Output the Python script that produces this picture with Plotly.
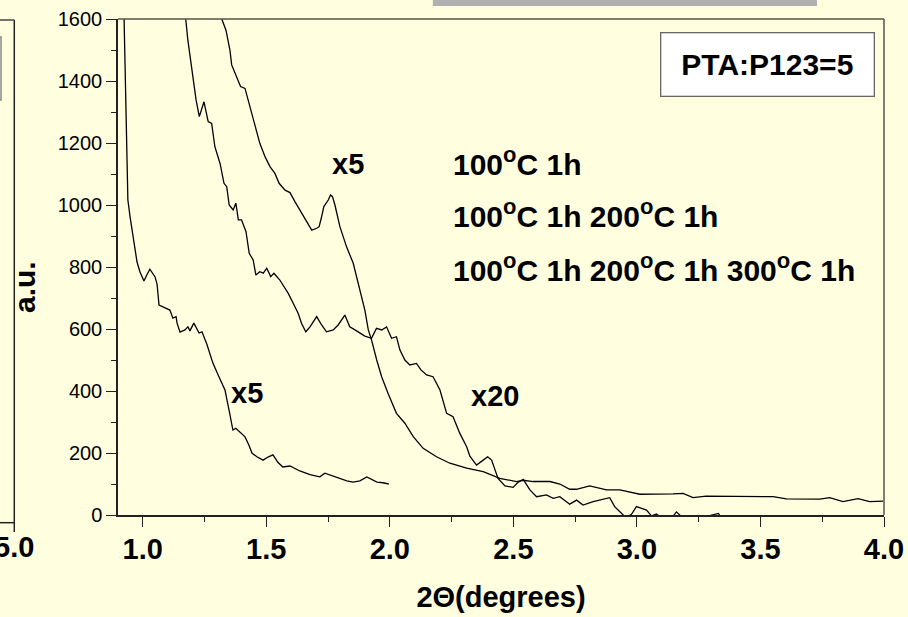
import plotly.graph_objects as go

# ---- data ----
x_a = [0.922, 0.925, 0.934, 0.940, 0.949, 0.969, 0.977, 0.989, 1.005, 1.017, 1.029, 1.050, 1.058, 1.066,
       1.090, 1.110, 1.122, 1.135, 1.139, 1.151, 1.171, 1.183, 1.191, 1.207, 1.228, 1.240, 1.260,
       1.284, 1.309, 1.333, 1.349, 1.365, 1.377, 1.394, 1.414, 1.430, 1.442, 1.462, 1.487, 1.507,
       1.527, 1.547, 1.567, 1.596, 1.636, 1.677, 1.717, 1.737, 1.770, 1.798, 1.826, 1.851, 1.879,
       1.907, 1.927, 1.948, 1.972, 1.996]
y_a = [1700, 1600, 1250, 1016, 961, 855, 816, 784, 755, 775, 793, 768, 745, 677,
       668, 661, 635, 640, 619, 590, 597, 607, 594, 619, 587, 591, 550,
       490, 445, 403, 340, 274, 280, 268, 252, 225, 200, 188, 177, 187,
       194, 170, 155, 158, 142, 130, 123, 135, 125, 116, 110, 106, 110,
       123, 115, 106, 104, 100]

x_b = [1.170, 1.174, 1.183, 1.198, 1.216, 1.229, 1.248, 1.265, 1.279, 1.292, 1.313, 1.329, 1.340,
       1.350, 1.366, 1.377, 1.387, 1.400, 1.418, 1.431, 1.447, 1.458, 1.474, 1.488, 1.502, 1.518,
       1.531, 1.555, 1.589, 1.609, 1.629, 1.643, 1.660, 1.677, 1.704, 1.724, 1.744, 1.771, 1.791,
       1.818, 1.838, 1.859, 1.879, 1.899, 1.926, 1.946, 1.967, 1.987, 2.007, 2.027, 2.041, 2.061,
       2.081, 2.108, 2.126, 2.149, 2.175, 2.203, 2.230, 2.256, 2.283, 2.311, 2.324, 2.351, 2.378,
       2.396, 2.412, 2.438, 2.466, 2.499, 2.518, 2.540, 2.567, 2.594, 2.634, 2.661, 2.688, 2.728,
       2.756, 2.782, 2.823, 2.850, 2.890, 2.910, 2.931, 2.951, 2.963, 2.978, 2.998, 3.020, 3.039,
       3.059, 3.079, 3.101, 3.141, 3.160, 3.180, 3.254, 3.294, 3.319, 3.330, 3.338]
y_b = [1700, 1600, 1530, 1446, 1339, 1285, 1333, 1269, 1263, 1188, 1134, 1070, 1059,
       1000, 984, 1006, 952, 952, 914, 844, 823, 774, 785, 780, 796, 769,
       780, 758, 715, 683, 651, 618, 591, 607, 640, 613, 591, 597, 613,
       645, 607, 597, 586, 577, 570, 602, 597, 607, 570, 575, 532, 500,
       484, 489, 468, 452, 446, 403, 328, 317, 264, 220, 190, 161, 177,
       188, 177, 118, 94, 89, 105, 115, 81, 59, 65, 54, 59, 35,
       48, 32, 43, 48, 56, 27, 11, -5, -5, 2, 27, 20, 16,
       -3, 3, -10, -10, 10, -5, -10, -2, 4, 5, -5]

x_c = [1.316, 1.320, 1.337, 1.353, 1.360, 1.380, 1.396, 1.414, 1.434, 1.454, 1.474, 1.495, 1.515,
       1.535, 1.552, 1.576, 1.596, 1.616, 1.643, 1.663, 1.684, 1.704, 1.714, 1.724, 1.733, 1.751,
       1.760, 1.768, 1.778, 1.798, 1.825, 1.852, 1.872, 1.886, 1.899, 1.913, 1.926, 1.947, 1.967,
       1.993, 2.027, 2.061, 2.095, 2.135, 2.189, 2.243, 2.311, 2.378, 2.445, 2.513, 2.540, 2.580,
       2.648, 2.688, 2.728, 2.755, 2.809, 2.877, 2.931, 3.012, 3.066, 3.146, 3.187, 3.227, 3.281,
       3.389, 3.497, 3.551, 3.605, 3.659, 3.740, 3.780, 3.834, 3.895, 3.942, 3.996]
y_c = [1650, 1600, 1564, 1500, 1452, 1414, 1382, 1376, 1317, 1253, 1199, 1156, 1124,
       1102, 1070, 1048, 1040, 1011, 973, 946, 919, 925, 930, 962, 995, 1016,
       1032, 1027, 1000, 930, 865, 812, 747, 694, 661, 597, 565, 500, 446,
       392, 328, 296, 253, 215, 188, 167, 151, 140, 118, 108, 112, 108,
       108, 100, 83, 83, 94, 81, 81, 67, 67, 68, 70, 56, 61,
       61, 61, 59, 52, 51, 51, 56, 43, 53, 43, 45]

x_ticks = [1.0, 1.5, 2.0, 2.5, 3.0, 3.5, 4.0]
y_ticks = [0, 200, 400, 600, 800, 1000, 1200, 1400, 1600]

SUP = '<sup><span style="font-size:22px">o</span></sup>'
legend_lines = [
    f"100{SUP}C 1h",
    f"100{SUP}C 1h 200{SUP}C 1h",
    f"100{SUP}C 1h 200{SUP}C 1h 300{SUP}C 1h",
]

FONT = "Liberation Sans, Arial, sans-serif"
BG = "#FFFFE0"

fig = go.Figure()
for xs, ys in [(x_a, y_a), (x_b, y_b), (x_c, y_c)]:
    fig.add_trace(go.Scatter(x=xs, y=ys, mode="lines",
                             line=dict(color="black", width=1.3),
                             showlegend=False, hoverinfo="skip"))

fig.update_layout(
    width=908, height=617,
    margin=dict(l=118, r=24, t=19, b=102),
    paper_bgcolor=BG, plot_bgcolor=BG,
    font=dict(family=FONT, color="black"),
    showlegend=False,
)

fig.update_xaxes(
    range=[0.9, 4.0], showgrid=False, zeroline=False, automargin=False,
    showline=True, linecolor="#222", linewidth=1.5,
    tickmode="array", tickvals=x_ticks, ticktext=[f"{v:.1f}" for v in x_ticks],
    ticks="outside", ticklen=10, tickwidth=1.3, tickcolor="#222",
    tickfont=dict(size=29, family=FONT, weight="bold"), ticklabelstandoff=-3,
    minor=dict(dtick=0.25, tick0=0.75, ticks="outside", ticklen=5, tickcolor="#222", tickwidth=1.2),
    title=dict(text="2Θ(degrees)", font=dict(size=29, family=FONT, weight="bold"), standoff=23),
)
fig.update_yaxes(
    range=[0, 1600], showgrid=False, zeroline=False, automargin=False,
    showline=True, linecolor="#222", linewidth=1.5,
    tickmode="array", tickvals=y_ticks,
    ticks="outside", ticklen=10, tickwidth=1.3, tickcolor="#222",
    tickfont=dict(size=20, family=FONT),
    minor=dict(dtick=100, tick0=0, ticks="outside", ticklen=5, tickcolor="#222", tickwidth=1.2),
)

# top / right frame
fig.add_shape(type="line", xref="paper", yref="paper", x0=0, x1=1, y0=1, y1=1,
              line=dict(color="#55554a", width=1.5))
fig.add_shape(type="line", xref="paper", yref="paper", x0=1, x1=1, y0=0, y1=1,
              line=dict(color="#55554a", width=1.5))

# gray bar at top (cut-off element)
fig.add_shape(type="rect", xref="paper", yref="paper", x0=0.411, x1=0.9125, y0=1.026, y1=1.05,
              fillcolor="#B0B0B0", line=dict(width=0))

# left partial panel
fig.add_shape(type="line", xref="paper", yref="paper", x0=-0.1354, x1=-0.1354, y0=-0.0343, y1=0.998,
              line=dict(color="#222", width=1.5))
fig.add_shape(type="line", xref="paper", yref="paper", x0=-0.16, x1=-0.1354, y0=0.998, y1=0.998,
              line=dict(color="#444", width=1.5))
fig.add_shape(type="line", xref="paper", yref="paper", x0=-0.16, x1=-0.1354, y0=-0.0155, y1=-0.0155,
              line=dict(color="#222", width=1.5))
fig.add_shape(type="rect", xref="paper", yref="paper", x0=-0.17, x1=-0.1527, y0=0.8367, y1=0.9637,
              line=dict(color="#888", width=1.5), fillcolor="rgba(0,0,0,0)")
fig.add_annotation(xref="paper", yref="paper", x=-0.1354, y=-0.064, text="5.0", showarrow=False,
                   font=dict(size=29, family=FONT, weight="bold"), xanchor="center", yanchor="middle")
fig.add_annotation(xref="paper", yref="paper", x=-0.1214, y=0.4597, text="a.u.", showarrow=False,
                   textangle=-90, font=dict(size=30, family=FONT, weight="bold"),
                   xanchor="center", yanchor="middle")

# curve labels
for txt, xx, yy in [("x5", 1.830, 1132), ("x5", 1.422, 394), ("x20", 2.425, 384)]:
    fig.add_annotation(x=xx, y=yy, text=txt, showarrow=False,
                       font=dict(size=29, family=FONT, weight="bold"))

for txt, yy in zip(legend_lines, [1139, 971, 798]):
    fig.add_annotation(x=2.247, y=yy, text=txt, showarrow=False, xanchor="left",
                       font=dict(size=30, family=FONT, weight="bold"))

fig.add_annotation(x=3.529, y=1453, text="PTA:P123=5", showarrow=False,
                   font=dict(size=30, family=FONT, weight="bold"),
                   bgcolor="white", bordercolor="#666", borderwidth=1.3,
                   width=212, height=62, borderpad=0)

fig.write_html("out.html")
